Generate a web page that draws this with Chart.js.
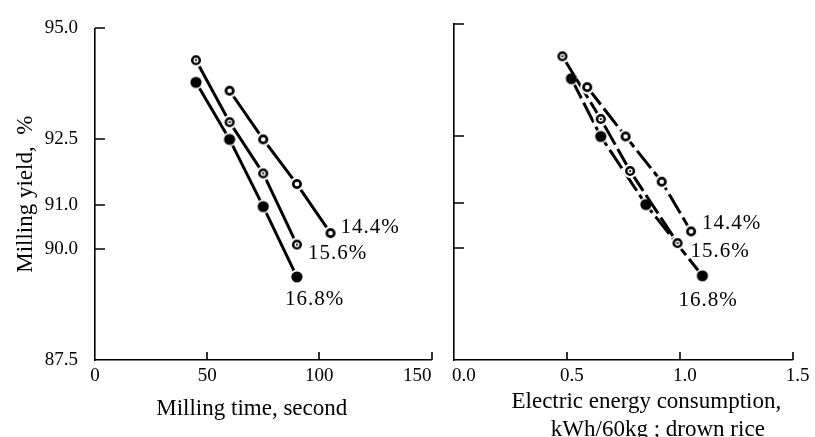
<!DOCTYPE html>
<html>
<head>
<meta charset="utf-8">
<script src="https://cdn.jsdelivr.net/npm/chart.js@4/dist/chart.umd.min.js"></script>
<style>
  html, body { margin: 0; padding: 0; background: #fff; overflow: hidden; }
  #wrap { position: relative; width: 815px; height: 437px; overflow: hidden; }
  .box { position: absolute; top: 0; height: 450px; }
  #left { left: 0; width: 465px; }
  #right { left: 415px; width: 400px; }
</style>
</head>
<body>
<div id="wrap">
  <div class="box" id="left"><canvas id="timeChart"></canvas></div>
  <div class="box" id="right"><canvas id="energyChart"></canvas></div>
</div>
<script>
// Moisture content of the paddy (one line each)
const moistureLabels = ['14.4%', '15.6%', '16.8%'];

// Milling time, second
const time144 = [60, 75, 90, 105];
const time156 = [45, 60, 75, 90];
const time168 = [45, 60, 75, 90];

// Electric energy consumption, kWh/60kg
const energy144 = [0.59, 0.76, 0.92, 1.05];
const energy156 = [0.48, 0.65, 0.78, 0.99];
const energy168 = [0.52, 0.65, 0.85, 1.10];

// Milling yield, %
const yield144 = [93.59, 92.49, 91.48, 90.37];
const yield156 = [94.28, 92.88, 91.72, 90.11];
const yield168 = [93.78, 92.49, 90.97, 89.38];

// Tick labels
const yieldTicks = [87.5, 90.0, 91.0, 92.5, 95.0];
const timeTicks = [0, 50, 100, 150];
const energyTicks = [0.0, 0.5, 1.0, 1.5];

const SERIF = '"Liberation Serif", "DejaVu Serif", serif';

// marker images: white halo so the line stops short of the point
function makeMarker(kind) {
    const c = document.createElement('canvas');
    c.width = 20;
    c.height = 20;
    const g = c.getContext('2d');
    g.fillStyle = '#fff';
    g.beginPath();
    g.arc(10, 10, 7.2, 0, Math.PI * 2);
    g.fill();
    g.fillStyle = '#000';
    g.strokeStyle = '#000';
    if (kind === 'filled') {
        g.beginPath();
        g.arc(10, 10, 5.6, 0, Math.PI * 2);
        g.fill();
    } else {
        g.lineWidth = kind === 'dotted' ? 2.5 : 2.7;
        g.beginPath();
        g.arc(10, 10, kind === 'dotted' ? 3.8 : 3.7, 0, Math.PI * 2);
        g.stroke();
        if (kind === 'dotted') {
            g.beginPath();
            g.arc(10, 10, 1.1, 0, Math.PI * 2);
            g.fill();
        }
    }
    return c;
}
const markers = [makeMarker('open'), makeMarker('dotted'), makeMarker('filled')];

function toPoints(xs, ys) {
    return xs.map((x, i) => ({ x: x, y: ys[i] }));
}

function makeDatasets(xSets, dash) {
    const ySets = [yield144, yield156, yield168];
    return xSets.map((xs, i) => ({
        label: moistureLabels[i],
        data: toPoints(xs, ySets[i]),
        showLine: true,
        borderColor: '#000',
        borderWidth: 3,
        borderDash: dash,
        pointStyle: markers[i],
        pointRadius: 6,
        pointHoverRadius: 6
    }));
}

// tick marks drawn inward from the axes
const insideTicks = {
    id: 'insideTicks',
    afterDraw(chart) {
        const { ctx, chartArea, scales } = chart;
        ctx.save();
        ctx.strokeStyle = '#000';
        ctx.lineWidth = 1.6;
        ctx.beginPath();
        scales.x.ticks.forEach(t => {
            if (t.value === scales.x.min) return;
            const px = Math.round(scales.x.getPixelForValue(t.value));
            ctx.moveTo(px, chartArea.bottom);
            ctx.lineTo(px, chartArea.bottom - 8);
        });
        scales.y.ticks.forEach(t => {
            if (t.value === scales.y.min) return;
            const py = Math.round(scales.y.getPixelForValue(t.value));
            ctx.moveTo(chartArea.left, py);
            ctx.lineTo(chartArea.left + 10, py);
        });
        ctx.stroke();
        ctx.restore();
    }
};

// moisture labels next to the last point of each line
const endLabels = {
    id: 'endLabels',
    afterDatasetsDraw(chart, args, opts) {
        const ctx = chart.ctx;
        ctx.save();
        ctx.font = '21px ' + SERIF;
        ctx.letterSpacing = '1px';
        ctx.fillStyle = '#000';
        ctx.textAlign = 'left';
        ctx.textBaseline = 'middle';
        chart.data.datasets.forEach((ds, i) => {
            const meta = chart.getDatasetMeta(i);
            const last = meta.data[meta.data.length - 1];
            const off = opts.offsets[i];
            ctx.fillText(ds.label, last.x + off[0], last.y + off[1]);
        });
        ctx.restore();
    }
};

function makeOptions(cfg) {
    return {
        responsive: true,
        maintainAspectRatio: false,
        animation: false,
        layout: { padding: { top: 24, right: cfg.padRight, bottom: 0, left: 0 } },
        plugins: {
            legend: { display: false },
            tooltip: { enabled: false },
            endLabels: { offsets: cfg.labelOffsets }
        },
        scales: {
            x: {
                type: 'linear',
                min: cfg.xTicks[0],
                max: cfg.xTicks[cfg.xTicks.length - 1],
                grid: { display: false, drawTicks: false },
                border: { display: true, color: '#000', width: 1.6 },
                afterBuildTicks: scale => {
                    scale.ticks = cfg.xTicks.map(v => ({ value: v }));
                },
                afterFit: scale => { scale.height = 90; },
                ticks: {
                    autoSkip: false,
                    maxRotation: 0,
                    padding: 5,
                    labelOffset: cfg.labelShift,
                    color: '#000',
                    font: { family: SERIF, size: 19 },
                    callback: cfg.xFormat
                },
                title: {
                    display: true,
                    text: cfg.xTitle,
                    color: '#000',
                    font: { family: SERIF, size: 23, lineHeight: 1.2 },
                    padding: { top: 0, bottom: cfg.titlePad }
                }
            },
            y: {
                type: 'linear',
                min: 87.5,
                max: 95.0,
                grid: { display: false, drawTicks: false },
                border: { display: true, color: '#000', width: 1.6 },
                afterBuildTicks: scale => {
                    scale.ticks = yieldTicks.map(v => ({ value: v }));
                },
                afterFit: scale => { scale.width = cfg.yWidth; },
                ticks: {
                    display: cfg.showY,
                    padding: 17,
                    color: '#000',
                    font: { family: SERIF, size: 19 },
                    callback: v => v.toFixed(1)
                },
                title: {
                    display: cfg.showY,
                    text: 'Milling yield,  %',
                    color: '#000',
                    font: { family: SERIF, size: 23, lineHeight: 1.2 },
                    padding: { top: 12, bottom: 0 }
                }
            }
        }
    };
}

new Chart(document.getElementById('timeChart'), {
    type: 'scatter',
    data: { datasets: makeDatasets([time144, time156, time168], []) },
    options: makeOptions({
        xTicks: timeTicks,
        xFormat: (v, i, arr) => i === arr.length - 1 ? v + '\u2003\u2002' : String(v),
        xTitle: 'Milling time, second\u2003',
        titlePad: 27,
        labelShift: 0,
        yWidth: 95,
        showY: true,
        padRight: 32.3,
        labelOffsets: [[10, -6], [11, 9], [-12, 23]]
    }),
    plugins: [insideTicks, endLabels]
});

new Chart(document.getElementById('energyChart'), {
    type: 'scatter',
    data: { datasets: makeDatasets([energy144, energy156, energy168], [22, 5]) },
    options: makeOptions({
        xTicks: energyTicks,
        xFormat: (v, i) => i === 0 ? '\u2002' + v.toFixed(1) : v.toFixed(1),
        xTitle: ['\u2003\u2003Electric energy consumption,', '\u2003\u2003\u2003kWh/60kg ; drown rice'],
        titlePad: 6.6,
        labelShift: 5,
        yWidth: 39,
        showY: false,
        padRight: 22.3,
        labelOffsets: [[11, -8], [13, 8], [-24, 25]]
    }),
    plugins: [insideTicks, endLabels]
});
</script>
</body>
</html>
